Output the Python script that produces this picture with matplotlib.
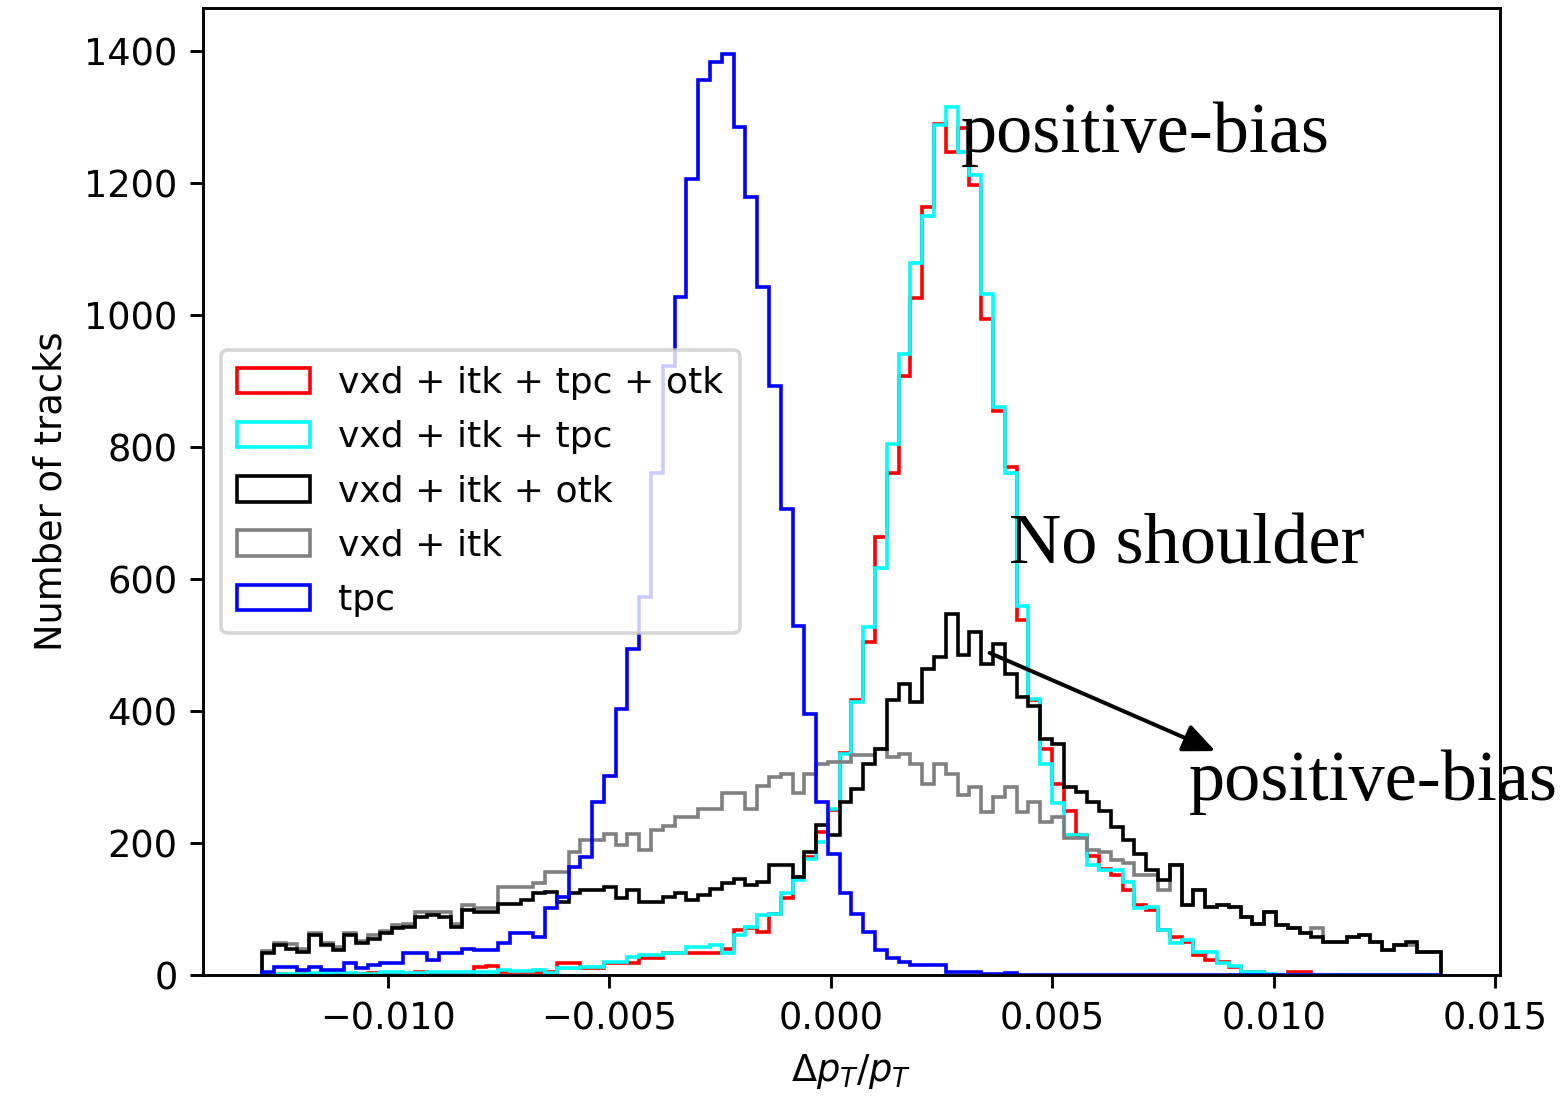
import numpy as np
import matplotlib
matplotlib.use("Agg")
import matplotlib.pyplot as plt

# ---------------- data ----------------
x_min, x_max, n_bins = -0.012846, 0.013779, 100
labels = ["vxd + itk + tpc + otk", "vxd + itk + tpc", "vxd + itk + otk", "vxd + itk", "tpc"]
colors = ["red", "cyan", "black", "gray", "blue"]

red_counts = [0, 1, 0, 3, 1, 1, 1, 2, 1, 3, 1, 2, 2, 4, 3, 2, 3, 3, 12, 14, 5, 5, 5, 5,
              5, 18, 18, 10, 10, 18, 18, 18, 25, 25, 33, 33, 33, 33, 33, 40,
              68, 71, 65, 93, 116, 149, 179, 217, 250, 337,
              416, 504, 663, 761, 907, 1026, 1164, 1289, 1247, 1283,
              1197, 993, 855, 770, 537, 416, 343, 290, 249, 212,
              181, 160, 152, 129, 106, 98, 68, 58, 50, 30,
              23, 20, 12, 5, 5, 0, 0, 5, 5, 0,
              0, 0, 0, 0, 0, 0, 0, 0, 0, 0]
cyan_counts = [1, 1, 2, 1, 3, 3, 4, 3, 2, 2, 4, 5, 3, 3, 4, 5, 5, 4, 4, 5, 8, 6, 6, 8,
               3, 10, 10, 12, 12, 20, 20, 28, 30, 30, 33, 33, 43, 43, 45, 33,
               60, 73, 91, 93, 124, 144, 176, 202, 252, 335,
               413, 527, 617, 804, 940, 1079, 1149, 1288, 1315, 1247,
               1212, 1031, 860, 760, 559, 418, 320, 260, 212, 212,
               166, 159, 159, 141, 101, 103, 68, 48, 53, 35,
               35, 18, 13, 5, 5, 2, 0, 0, 0, 0,
               0, 0, 0, 0, 0, 0, 0, 0, 0, 0]
black_counts = [33, 45, 40, 35, 60, 45, 38, 60, 48, 55, 63, 71, 73, 88, 91, 88, 73, 98, 96, 96,
                108, 108, 113, 124, 126, 111, 124, 129, 129, 134, 116, 129, 111, 111, 118, 124,
                113, 121, 131, 139, 146, 136, 141, 166, 166, 149, 186, 227, 212, 262,
                282, 320, 343, 416, 441, 413, 464, 481, 547, 484,
                519, 471, 502, 456, 421, 408, 358, 350, 285, 277,
                262, 249, 224, 204, 184, 159, 144, 166, 106, 129,
                103, 106, 103, 88, 78, 96, 76, 71, 63, 58,
                50, 50, 58, 60, 50, 38, 45, 50, 35, 35]
gray_counts = [37, 49, 47, 39, 64, 49, 42, 64, 52, 60, 67, 75, 77, 96, 96, 96, 78, 106, 101, 101,
               134, 134, 134, 139, 156, 156, 186, 204, 204, 214, 197, 214, 189, 219, 225, 239,
               239, 252, 252, 275, 275, 252, 287, 300, 305, 275, 305, 320, 323, 323,
               333, 333, 343, 330, 335, 320, 290, 320, 305, 272,
               285, 247, 270, 285, 247, 262, 232, 239, 207, 207,
               189, 186, 174, 170, 151, 151, 129, 166, 106, 129,
               103, 106, 103, 88, 78, 96, 76, 71, 63, 71,
               50, 50, 58, 60, 50, 38, 45, 45, 35, 35]
blue_counts = [5, 12, 12, 8, 12, 8, 8, 18, 10, 15, 18, 18, 33, 33, 23, 33, 33, 40, 38, 38,
               48, 64, 64, 58, 101, 118, 164, 179, 262, 302,
               403, 494, 572, 761, 922, 1027, 1205, 1356, 1383, 1395,
               1284, 1178, 1042, 892, 706, 529, 396, 262, 184, 124,
               93, 65, 38, 25, 20, 15, 15, 15, 5, 5,
               5, 1, 1, 3, 0, 0, 0, 0, 0, 0,
               0, 0, 0, 0, 0, 0, 0, 0, 0, 0,
               0, 0, 0, 0, 0, 0, 0, 0, 0, 0,
               0, 0, 0, 0, 0, 0, 0, 0, 0, 0]

x_ticks = [-0.010, -0.005, 0.000, 0.005, 0.010, 0.015]
y_ticks = [0, 200, 400, 600, 800, 1000, 1200, 1400]

# ---------------- figure ----------------
plt.rcParams["font.size"] = 10.2
W, H, DPI = 1567, 1103, 260
fig = plt.figure(figsize=(W / DPI, H / DPI), dpi=DPI)
ax = fig.add_axes([203 / W, 1 - 975 / H, (1500 - 203) / W, (975 - 8) / H])

edges = np.linspace(x_min, x_max, n_bins + 1)
centers = 0.5 * (edges[:-1] + edges[1:])
series = [red_counts, cyan_counts, black_counts, gray_counts, blue_counts]
zorders = [2.0, 2.1, 2.3, 2.2, 2.4]
for counts, col, lab, z in zip(series, colors, labels, zorders):
    ax.hist(centers, bins=edges, weights=counts, histtype="step", color=col, label=lab,
            lw=1.0, zorder=z)

ax.set_xticks(x_ticks)
ax.set_yticks(y_ticks)
ax.set_xlabel(r"$\Delta p_T/p_T$")
ax.set_ylabel("Number of tracks")
ax.legend(loc="center left", fontsize=10, labelspacing=0.56, borderpad=0.45)

serif = ["Liberation Serif", "DejaVu Serif"]
def ftext(px, py, s):
    fig.text(px / W, 1 - py / H, s, family=serif, fontsize=20, color="black", va="baseline", ha="left")

ftext(961, 152, "positive-bias")
ftext(1009, 563, "No shoulder")
ftext(1189, 800, "positive-bias")

arrow = matplotlib.patches.FancyArrowPatch((983 / W, 1 - 650 / H), (1222 / W, 1 - 754 / H),
                                           transform=fig.transFigure,
                                           arrowstyle="-|>,head_length=5,head_width=2.2",
                                           color="black", lw=1.1, mutation_scale=1.5)
fig.patches.append(arrow)

fig.savefig("out.png", dpi=DPI)
